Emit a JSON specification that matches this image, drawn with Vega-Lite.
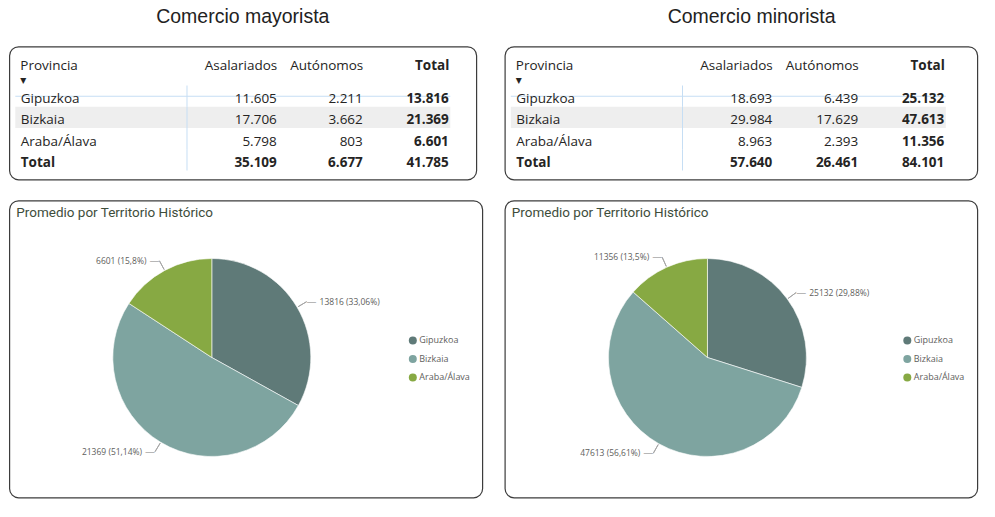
{
  "$schema": "https://vega.github.io/schema/vega-lite/v6.json",
  "background": "white",
  "padding": {"left": 8.3, "top": 5.5, "right": 5, "bottom": 5},
  "config": {
    "locale": {"number": {"decimal": ",", "thousands": ".", "grouping": [3], "currency": ["", " €"]}},
    "view": {"stroke": "#3c3c3c", "strokeWidth": 1.2, "cornerRadius": 9, "fill": "white"},
    "font": "Open Sans"
  },
  "datasets": {
    "mayorista": [
      {"Provincia": "Gipuzkoa", "Asalariados": 11605, "Autónomos": 2211, "Total": 13816},
      {"Provincia": "Bizkaia", "Asalariados": 17706, "Autónomos": 3662, "Total": 21369},
      {"Provincia": "Araba/Álava", "Asalariados": 5798, "Autónomos": 803, "Total": 6601},
      {"Provincia": "Total", "Asalariados": 35109, "Autónomos": 6677, "Total": 41785}
    ],
    "minorista": [
      {"Provincia": "Gipuzkoa", "Asalariados": 18693, "Autónomos": 6439, "Total": 25132},
      {"Provincia": "Bizkaia", "Asalariados": 29984, "Autónomos": 17629, "Total": 47613},
      {"Provincia": "Araba/Álava", "Asalariados": 8963, "Autónomos": 2393, "Total": 11356},
      {"Provincia": "Total", "Asalariados": 57640, "Autónomos": 26461, "Total": 84101}
    ]
  },
  "spacing": 20.5,
  "resolve": {"scale": {"color": "independent"}, "legend": {"color": "independent"}},
  "hconcat": [
    {
      "spacing": 19,
      "resolve": {"scale": {"color": "independent"}, "legend": {"color": "independent"}},
      "vconcat": [
        {
          "width": 467,
          "height": 133,
          "title": {"text": "Comercio mayorista", "font": "Liberation Sans", "fontSize": 19.5, "fontWeight": "normal", "color": "#222222", "anchor": "middle", "baseline": "alphabetic", "offset": 4.5},
          "data": {"name": "mayorista"},
          "resolve": {"scale": {"x": "independent"}, "axis": {"x": "independent"}},
          "encoding": {
            "y": {
              "field": "Provincia", "type": "nominal", "sort": null,
              "scale": {"domain": ["Gipuzkoa", "Bizkaia", "Araba/Álava", "Total"], "range": [39, 124], "paddingInner": 0, "paddingOuter": 0},
              "axis": {
                "orient": "left", "domain": false, "ticks": false, "grid": false, "zindex": 1,
                "labelAlign": "left", "labelBaseline": "middle", "labelPadding": -11, "labelOffset": 3,
                "labelFont": "Open Sans", "labelFontSize": 13.5, "labelColor": "#252423",
                "labelFontWeight": {"condition": {"test": "datum.value === 'Total'", "value": "bold"}, "value": "normal"},
                "title": "Provincia", "titleAngle": 0, "titleAlign": "left", "titleBaseline": "top",
                "titleX": 10.5, "titleY": 11.5, "titleFont": "Open Sans", "titleFontSize": 13.5,
                "titleFontWeight": "normal", "titleColor": "#252423"
              }
            }
          },
          "layer": [
            {
              "transform": [{"filter": "datum.Provincia === 'Bizkaia'"}],
              "mark": {"type": "rect", "color": "#eeeeee"},
              "encoding": {
                "x": {"datum": "tabla", "type": "nominal", "scale": {"domain": ["tabla"], "range": [6, 441], "paddingInner": 0, "paddingOuter": 0}, "axis": null}
              }
            },
            {
              "data": {"values": [{}]},
              "mark": {"type": "rect", "color": "#c6def4", "height": 1},
              "encoding": {
                "x": {"datum": "tabla", "type": "nominal", "scale": {"domain": ["tabla"], "range": [6, 441], "paddingInner": 0, "paddingOuter": 0}, "axis": null},
                "y": {"datum": "Gipuzkoa", "bandPosition": 0}
              }
            },
            {
              "mark": {"type": "rect", "color": "#c6def4"},
              "encoding": {
                "x": {"datum": "tabla", "type": "nominal", "scale": {"domain": ["tabla"], "range": [177.2, 178.2], "paddingInner": 0, "paddingOuter": 0}, "axis": null}
              }
            },
            {
              "transform": [
                {"fold": ["Asalariados", "Autónomos", "Total"], "as": ["columna", "valor"]},
                {"filter": "datum.columna !== 'Total' && datum.Provincia !== 'Total'"}
              ],
              "mark": {"type": "text", "align": "right", "baseline": "middle", "dy": 3, "font": "Open Sans", "fontSize": 13.5, "color": "#252423"},
              "encoding": {
                "x": {
                  "field": "columna", "type": "nominal", "sort": null,
                  "scale": {"type": "point", "domain": ["Asalariados", "Autónomos", "Total"], "range": [267.5, 439.5], "padding": 0},
                  "axis": {
                    "orient": "top", "domain": false, "ticks": false, "grid": false,
                    "labelAlign": "right", "labelBaseline": "middle", "labelPadding": -19, "labelAngle": 0,
                    "labelFont": "Open Sans", "labelFontSize": 13.5, "labelColor": "#252423",
                    "labelFontWeight": {"condition": {"test": "datum.value === 'Total'", "value": "bold"}, "value": "normal"},
                    "title": "▾", "titleAngle": 0, "titleAlign": "left", "titleBaseline": "middle",
                    "titleX": 10.5, "titleY": 32.5, "titleFont": "DejaVu Sans", "titleFontSize": 12,
                    "titleFontWeight": "normal", "titleColor": "#252423"
                  }
                },
                "text": {"field": "valor", "type": "quantitative", "format": ",d"}
              }
            },
            {
              "transform": [
                {"fold": ["Asalariados", "Autónomos", "Total"], "as": ["columna", "valor"]},
                {"filter": "datum.columna === 'Total' || datum.Provincia === 'Total'"}
              ],
              "mark": {"type": "text", "align": "right", "baseline": "middle", "dy": 3, "font": "Open Sans", "fontSize": 13.5, "fontWeight": "bold", "color": "#252423"},
              "encoding": {
                "x": {"field": "columna", "type": "nominal", "sort": null, "scale": {"type": "point", "domain": ["Asalariados", "Autónomos", "Total"], "range": [267.5, 439.5], "padding": 0}, "axis": null},
                "text": {"field": "valor", "type": "quantitative", "format": ",d"}
              }
            }
          ]
        },
        {
          "width": 473,
          "height": 297,
          "view": {"stroke": "#3c3c3c", "strokeWidth": 1.2, "cornerRadius": 9, "fill": "white"},
          "title": {"text": "Promedio por Territorio Histórico", "anchor": "start", "orient": "top", "baseline": "alphabetic", "offset": -30, "dx": 7, "font": "Roboto", "fontSize": 13.5, "fontWeight": "normal", "color": "#3e4d3b"},
          "data": {"name": "mayorista"},
          "transform": [
            {"filter": "datum.Provincia !== 'Total'"},
            {"joinaggregate": [{"op": "sum", "field": "Total", "as": "suma"}]},
            {"window": [{"op": "sum", "field": "Total", "as": "acum"}], "frame": [null, 0]},
            {"calculate": "(datum.acum - datum.Total) / datum.suma", "as": "inicio"},
            {"calculate": "datum.acum / datum.suma", "as": "fin"},
            {"calculate": "(datum.acum - datum.Total / 2) / datum.suma", "as": "medio"},
            {"calculate": "datum.Total + ' (' + format(datum.Total / datum.suma, '.4~p') + ')'", "as": "etiqueta"}
          ],
          "layer": [
            {
              "mark": {"type": "arc", "outerRadius": 99, "xOffset": -34, "yOffset": 8.5, "stroke": "white", "strokeWidth": 0.6},
              "encoding": {
                "theta": {"field": "inicio", "type": "quantitative", "scale": {"domain": [0, 1]}},
                "theta2": {"field": "fin"},
                "color": {
                  "field": "Provincia", "type": "nominal", "sort": null,
                  "scale": {"domain": ["Gipuzkoa", "Bizkaia", "Araba/Álava"], "range": ["#5f7a78", "#7ea4a0", "#87a943"]},
                  "legend": {"orient": "none", "legendX": 399, "legendY": 135.5, "title": null, "symbolType": "circle", "symbolSize": 64, "symbolStrokeWidth": 0, "labelFont": "Open Sans", "labelFontSize": 9, "labelColor": "#605e5c", "rowPadding": 8.5, "labelOffset": 2}
                }
              }
            },
            {
              "mark": {"type": "arc", "innerRadius": 100, "outerRadius": 110, "xOffset": -34, "yOffset": 8.5, "fill": null, "filled": false, "stroke": "#a6a6a6", "strokeWidth": 1},
              "encoding": {
                "theta": {"field": "medio", "type": "quantitative"},
                "theta2": {"field": "medio"}
              }
            },
            {
              "transform": [{"filter": "datum.medio < 0.5"}],
              "mark": {"type": "text", "radius": 110, "xOffset": -34, "yOffset": 8.5, "align": "left", "baseline": "middle", "fontSize": 10, "color": "#a6a6a6", "font": "DejaVu Sans"},
              "encoding": {"theta": {"field": "medio", "type": "quantitative"}, "text": {"value": "—"}}
            },
            {
              "transform": [{"filter": "datum.medio >= 0.5"}],
              "mark": {"type": "text", "radius": 110, "xOffset": -34, "yOffset": 8.5, "align": "right", "baseline": "middle", "fontSize": 10, "color": "#a6a6a6", "font": "DejaVu Sans"},
              "encoding": {"theta": {"field": "medio", "type": "quantitative"}, "text": {"value": "—"}}
            },
            {
              "transform": [{"filter": "datum.medio < 0.5"}],
              "mark": {"type": "text", "radius": 110, "xOffset": -34, "yOffset": 8.5, "dx": 13, "align": "left", "baseline": "middle", "font": "Open Sans", "fontSize": 8.5, "color": "#605e5c"},
              "encoding": {"theta": {"field": "medio", "type": "quantitative"}, "text": {"field": "etiqueta"}}
            },
            {
              "transform": [{"filter": "datum.medio >= 0.5"}],
              "mark": {"type": "text", "radius": 110, "xOffset": -34, "yOffset": 8.5, "dx": -13, "align": "right", "baseline": "middle", "font": "Open Sans", "fontSize": 8.5, "color": "#605e5c"},
              "encoding": {"theta": {"field": "medio", "type": "quantitative"}, "text": {"field": "etiqueta"}}
            }
          ]
        }
      ]
    },
    {
      "spacing": 19,
      "resolve": {"scale": {"color": "independent"}, "legend": {"color": "independent"}},
      "vconcat": [
        {
          "width": 472.5,
          "height": 133,
          "title": {"text": "Comercio minorista", "font": "Liberation Sans", "fontSize": 19.5, "fontWeight": "normal", "color": "#222222", "anchor": "middle", "baseline": "alphabetic", "offset": 4.5, "dx": 10.5},
          "data": {"name": "minorista"},
          "resolve": {"scale": {"x": "independent"}, "axis": {"x": "independent"}},
          "encoding": {
            "y": {
              "field": "Provincia", "type": "nominal", "sort": null,
              "scale": {"domain": ["Gipuzkoa", "Bizkaia", "Araba/Álava", "Total"], "range": [39, 124], "paddingInner": 0, "paddingOuter": 0},
              "axis": {
                "orient": "left", "domain": false, "ticks": false, "grid": false, "zindex": 1,
                "labelAlign": "left", "labelBaseline": "middle", "labelPadding": -11, "labelOffset": 3,
                "labelFont": "Open Sans", "labelFontSize": 13.5, "labelColor": "#252423",
                "labelFontWeight": {"condition": {"test": "datum.value === 'Total'", "value": "bold"}, "value": "normal"},
                "title": "Provincia", "titleAngle": 0, "titleAlign": "left", "titleBaseline": "top",
                "titleX": 10.5, "titleY": 11.5, "titleFont": "Open Sans", "titleFontSize": 13.5,
                "titleFontWeight": "normal", "titleColor": "#252423"
              }
            }
          },
          "layer": [
            {
              "transform": [{"filter": "datum.Provincia === 'Bizkaia'"}],
              "mark": {"type": "rect", "color": "#eeeeee"},
              "encoding": {
                "x": {"datum": "tabla", "type": "nominal", "scale": {"domain": ["tabla"], "range": [6, 441], "paddingInner": 0, "paddingOuter": 0}, "axis": null}
              }
            },
            {
              "data": {"values": [{}]},
              "mark": {"type": "rect", "color": "#c6def4", "height": 1},
              "encoding": {
                "x": {"datum": "tabla", "type": "nominal", "scale": {"domain": ["tabla"], "range": [6, 441], "paddingInner": 0, "paddingOuter": 0}, "axis": null},
                "y": {"datum": "Gipuzkoa", "bandPosition": 0}
              }
            },
            {
              "mark": {"type": "rect", "color": "#c6def4"},
              "encoding": {
                "x": {"datum": "tabla", "type": "nominal", "scale": {"domain": ["tabla"], "range": [177.2, 178.2], "paddingInner": 0, "paddingOuter": 0}, "axis": null}
              }
            },
            {
              "transform": [
                {"fold": ["Asalariados", "Autónomos", "Total"], "as": ["columna", "valor"]},
                {"filter": "datum.columna !== 'Total' && datum.Provincia !== 'Total'"}
              ],
              "mark": {"type": "text", "align": "right", "baseline": "middle", "dy": 3, "font": "Open Sans", "fontSize": 13.5, "color": "#252423"},
              "encoding": {
                "x": {
                  "field": "columna", "type": "nominal", "sort": null,
                  "scale": {"type": "point", "domain": ["Asalariados", "Autónomos", "Total"], "range": [267.5, 439.5], "padding": 0},
                  "axis": {
                    "orient": "top", "domain": false, "ticks": false, "grid": false,
                    "labelAlign": "right", "labelBaseline": "middle", "labelPadding": -19, "labelAngle": 0,
                    "labelFont": "Open Sans", "labelFontSize": 13.5, "labelColor": "#252423",
                    "labelFontWeight": {"condition": {"test": "datum.value === 'Total'", "value": "bold"}, "value": "normal"},
                    "title": "▾", "titleAngle": 0, "titleAlign": "left", "titleBaseline": "middle",
                    "titleX": 10.5, "titleY": 32.5, "titleFont": "DejaVu Sans", "titleFontSize": 12,
                    "titleFontWeight": "normal", "titleColor": "#252423"
                  }
                },
                "text": {"field": "valor", "type": "quantitative", "format": ",d"}
              }
            },
            {
              "transform": [
                {"fold": ["Asalariados", "Autónomos", "Total"], "as": ["columna", "valor"]},
                {"filter": "datum.columna === 'Total' || datum.Provincia === 'Total'"}
              ],
              "mark": {"type": "text", "align": "right", "baseline": "middle", "dy": 3, "font": "Open Sans", "fontSize": 13.5, "fontWeight": "bold", "color": "#252423"},
              "encoding": {
                "x": {"field": "columna", "type": "nominal", "sort": null, "scale": {"type": "point", "domain": ["Asalariados", "Autónomos", "Total"], "range": [267.5, 439.5], "padding": 0}, "axis": null},
                "text": {"field": "valor", "type": "quantitative", "format": ",d"}
              }
            }
          ]
        },
        {
          "width": 472.5,
          "height": 297,
          "view": {"stroke": "#3c3c3c", "strokeWidth": 1.2, "cornerRadius": 9, "fill": "white"},
          "title": {"text": "Promedio por Territorio Histórico", "anchor": "start", "orient": "top", "baseline": "alphabetic", "offset": -30, "dx": 7, "font": "Roboto", "fontSize": 13.5, "fontWeight": "normal", "color": "#3e4d3b"},
          "data": {"name": "minorista"},
          "transform": [
            {"filter": "datum.Provincia !== 'Total'"},
            {"joinaggregate": [{"op": "sum", "field": "Total", "as": "suma"}]},
            {"window": [{"op": "sum", "field": "Total", "as": "acum"}], "frame": [null, 0]},
            {"calculate": "(datum.acum - datum.Total) / datum.suma", "as": "inicio"},
            {"calculate": "datum.acum / datum.suma", "as": "fin"},
            {"calculate": "(datum.acum - datum.Total / 2) / datum.suma", "as": "medio"},
            {"calculate": "datum.Total + ' (' + format(datum.Total / datum.suma, '.4~p') + ')'", "as": "etiqueta"}
          ],
          "layer": [
            {
              "mark": {"type": "arc", "outerRadius": 99, "xOffset": -33.6, "yOffset": 8.5, "stroke": "white", "strokeWidth": 0.6},
              "encoding": {
                "theta": {"field": "inicio", "type": "quantitative", "scale": {"domain": [0, 1]}},
                "theta2": {"field": "fin"},
                "color": {
                  "field": "Provincia", "type": "nominal", "sort": null,
                  "scale": {"domain": ["Gipuzkoa", "Bizkaia", "Araba/Álava"], "range": ["#5f7a78", "#7ea4a0", "#87a943"]},
                  "legend": {"orient": "none", "legendX": 398, "legendY": 135.5, "title": null, "symbolType": "circle", "symbolSize": 64, "symbolStrokeWidth": 0, "labelFont": "Open Sans", "labelFontSize": 9, "labelColor": "#605e5c", "rowPadding": 8.5, "labelOffset": 2}
                }
              }
            },
            {
              "mark": {"type": "arc", "innerRadius": 100, "outerRadius": 110, "xOffset": -33.6, "yOffset": 8.5, "fill": null, "filled": false, "stroke": "#a6a6a6", "strokeWidth": 1},
              "encoding": {
                "theta": {"field": "medio", "type": "quantitative"},
                "theta2": {"field": "medio"}
              }
            },
            {
              "transform": [{"filter": "datum.medio < 0.5"}],
              "mark": {"type": "text", "radius": 110, "xOffset": -33.6, "yOffset": 8.5, "align": "left", "baseline": "middle", "fontSize": 10, "color": "#a6a6a6", "font": "DejaVu Sans"},
              "encoding": {"theta": {"field": "medio", "type": "quantitative"}, "text": {"value": "—"}}
            },
            {
              "transform": [{"filter": "datum.medio >= 0.5"}],
              "mark": {"type": "text", "radius": 110, "xOffset": -33.6, "yOffset": 8.5, "align": "right", "baseline": "middle", "fontSize": 10, "color": "#a6a6a6", "font": "DejaVu Sans"},
              "encoding": {"theta": {"field": "medio", "type": "quantitative"}, "text": {"value": "—"}}
            },
            {
              "transform": [{"filter": "datum.medio < 0.5"}],
              "mark": {"type": "text", "radius": 110, "xOffset": -33.6, "yOffset": 8.5, "dx": 13, "align": "left", "baseline": "middle", "font": "Open Sans", "fontSize": 8.5, "color": "#605e5c"},
              "encoding": {"theta": {"field": "medio", "type": "quantitative"}, "text": {"field": "etiqueta"}}
            },
            {
              "transform": [{"filter": "datum.medio >= 0.5"}],
              "mark": {"type": "text", "radius": 110, "xOffset": -33.6, "yOffset": 8.5, "dx": -13, "align": "right", "baseline": "middle", "font": "Open Sans", "fontSize": 8.5, "color": "#605e5c"},
              "encoding": {"theta": {"field": "medio", "type": "quantitative"}, "text": {"field": "etiqueta"}}
            }
          ]
        }
      ]
    }
  ]
}
